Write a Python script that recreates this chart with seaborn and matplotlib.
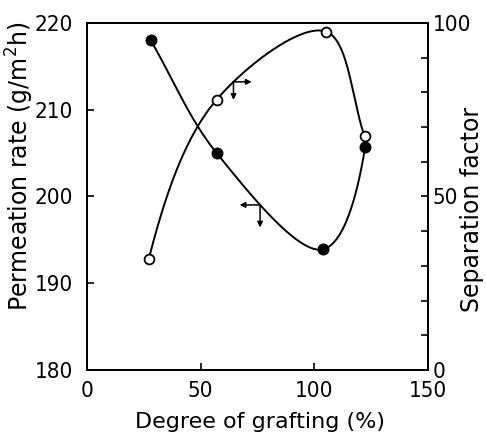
import numpy as np
import pandas as pd
import seaborn as sns
import matplotlib.pyplot as plt

# valores
grafting_perm = [28.0, 57.0, 103.7, 122.3]
permeation = [218.0, 205.0, 193.9, 205.7]

grafting_sep = [27.1, 57.0, 105.1, 122.1]
separation = [31.9, 77.9, 97.5, 67.3]

x_ticks = [0, 50, 100, 150]
perm_ticks = [180, 190, 200, 210, 220]
sep_ticks = [0, 50, 100]


def extremo(P, a, b, c, modo):
    # ponto fantasma nas pontas da curva
    if modo == "quad":
        return 3 * P[a] - 3 * P[b] + P[c]
    return 2 * P[a] - P[b]


def smooth(xs, ys, xr, yr, ini="reflect", fim="reflect", n=80):
    # catmull-rom centripeto, em coordenadas normalizadas
    xs = (np.asarray(xs) - xr[0]) / (xr[1] - xr[0])
    ys = (np.asarray(ys) - yr[0]) / (yr[1] - yr[0])
    P = np.column_stack([xs, ys])
    P = np.vstack([extremo(P, 0, 1, 2, ini), P, extremo(P, -1, -2, -3, fim)])
    out = []
    for i in range(1, len(P) - 2):
        p0, p1, p2, p3 = P[i - 1:i + 3]
        t0 = 0.0
        t1 = t0 + np.linalg.norm(p1 - p0) ** 0.5
        t2 = t1 + np.linalg.norm(p2 - p1) ** 0.5
        t3 = t2 + np.linalg.norm(p3 - p2) ** 0.5
        t = np.linspace(t1, t2, n)[:, None]
        a1 = (t1 - t) / (t1 - t0) * p0 + (t - t0) / (t1 - t0) * p1
        a2 = (t2 - t) / (t2 - t1) * p1 + (t - t1) / (t2 - t1) * p2
        a3 = (t3 - t) / (t3 - t2) * p2 + (t - t2) / (t3 - t2) * p3
        b1 = (t2 - t) / (t2 - t0) * a1 + (t - t0) / (t2 - t0) * a2
        b2 = (t3 - t) / (t3 - t1) * a2 + (t - t1) / (t3 - t1) * a3
        c = (t2 - t) / (t2 - t1) * b1 + (t - t1) / (t2 - t1) * b2
        out.append(c)
    C = np.vstack(out)
    return (C[:, 0] * (xr[1] - xr[0]) + xr[0],
            C[:, 1] * (yr[1] - yr[0]) + yr[0])


sns.set_style("ticks", {"axes.edgecolor": "black", "text.color": "black",
                        "axes.labelcolor": "black", "xtick.color": "black",
                        "ytick.color": "black"})
plt.rcParams['font.family'] = ['DejaVu Sans']

fig = plt.figure(figsize=(4.86, 4.32), dpi=100)
ax = fig.add_axes([0.179, 0.1435, 0.702, 0.8035])
ax2 = ax.twinx()

df_perm = pd.DataFrame({"x": grafting_perm, "y": permeation})
df_sep = pd.DataFrame({"x": grafting_sep, "y": separation})

cx, cy = smooth(grafting_perm, permeation, (0, 150), (180, 220),
                ini="reflect", fim="quad")
sns.lineplot(x=cx, y=cy, sort=False, estimator=None, color="black",
             linewidth=1.4, ax=ax)
sns.scatterplot(data=df_perm, x="x", y="y", color="black", s=55,
                edgecolor="black", linewidth=1.2, ax=ax, zorder=3)

sx, sy = smooth(grafting_sep, separation, (0, 150), (0, 100),
                ini="quad", fim="reflect")
sns.lineplot(x=sx, y=sy, sort=False, estimator=None, color="black",
             linewidth=1.4, ax=ax2)
sns.scatterplot(data=df_sep, x="x", y="y", color="white", s=50,
                edgecolor="black", linewidth=1.3, ax=ax2, zorder=3)

# setas indicando o eixo de cada curva (presas na curva)
arrow = dict(arrowstyle="-|>", color="black", lw=1.1, mutation_scale=8,
             shrinkA=0, shrinkB=0)
xa = 76.1
ya = np.interp(xa, cx[:160], cy[:160])
ax.annotate("", xy=(xa - 9, ya), xytext=(xa, ya), arrowprops=arrow)
ax.annotate("", xy=(xa, ya - 2.6), xytext=(xa, ya), arrowprops=arrow)
xb = 64.4
yb = np.interp(xb, sx[:160], sy[:160])
ax2.annotate("", xy=(xb + 8, yb), xytext=(xb, yb), arrowprops=arrow)
ax2.annotate("", xy=(xb, yb - 5.2), xytext=(xb, yb), arrowprops=arrow)

ax.set_xlim(0, 150)
ax.set_ylim(180, 220)
ax2.set_ylim(0, 100)
ax.set_xticks(x_ticks)
ax.set_yticks(perm_ticks)
ax2.set_yticks(sep_ticks)
ax2.set_yticks(np.arange(0, 101, 10), minor=True)

ax.tick_params(direction="in", length=5, width=1.2, labelsize=16, pad=10)
ax.tick_params(axis="x", pad=8)
ax2.tick_params(axis="y", which="both", direction="in", length=5,
                width=1.2, labelsize=16, pad=3)

# numeros dos eixos mais estreitos, como no original
for lab in ax.get_xticklabels() + ax.get_yticklabels() + ax2.get_yticklabels():
    lab.set_fontstretch("condensed")

for a in (ax, ax2):
    for s in a.spines.values():
        s.set_linewidth(1.4)
        s.set_visible(True)

ax.set_xlabel("Degree of grafting (%)", fontsize=16)
ax.set_ylabel("Permeation rate (g/m$^2$h)", fontsize=17)
ax2.set_ylabel("Separation factor", fontsize=17)
for lab in (ax.xaxis.label, ax.yaxis.label, ax2.yaxis.label):
    lab.set_va("center")
ax.xaxis.set_label_coords(0.507, -0.150)
ax.yaxis.set_label_coords(-0.198, 0.588)
ax2.yaxis.set_label_coords(1.128, 0.464)

plt.savefig("out.png", dpi=100)
